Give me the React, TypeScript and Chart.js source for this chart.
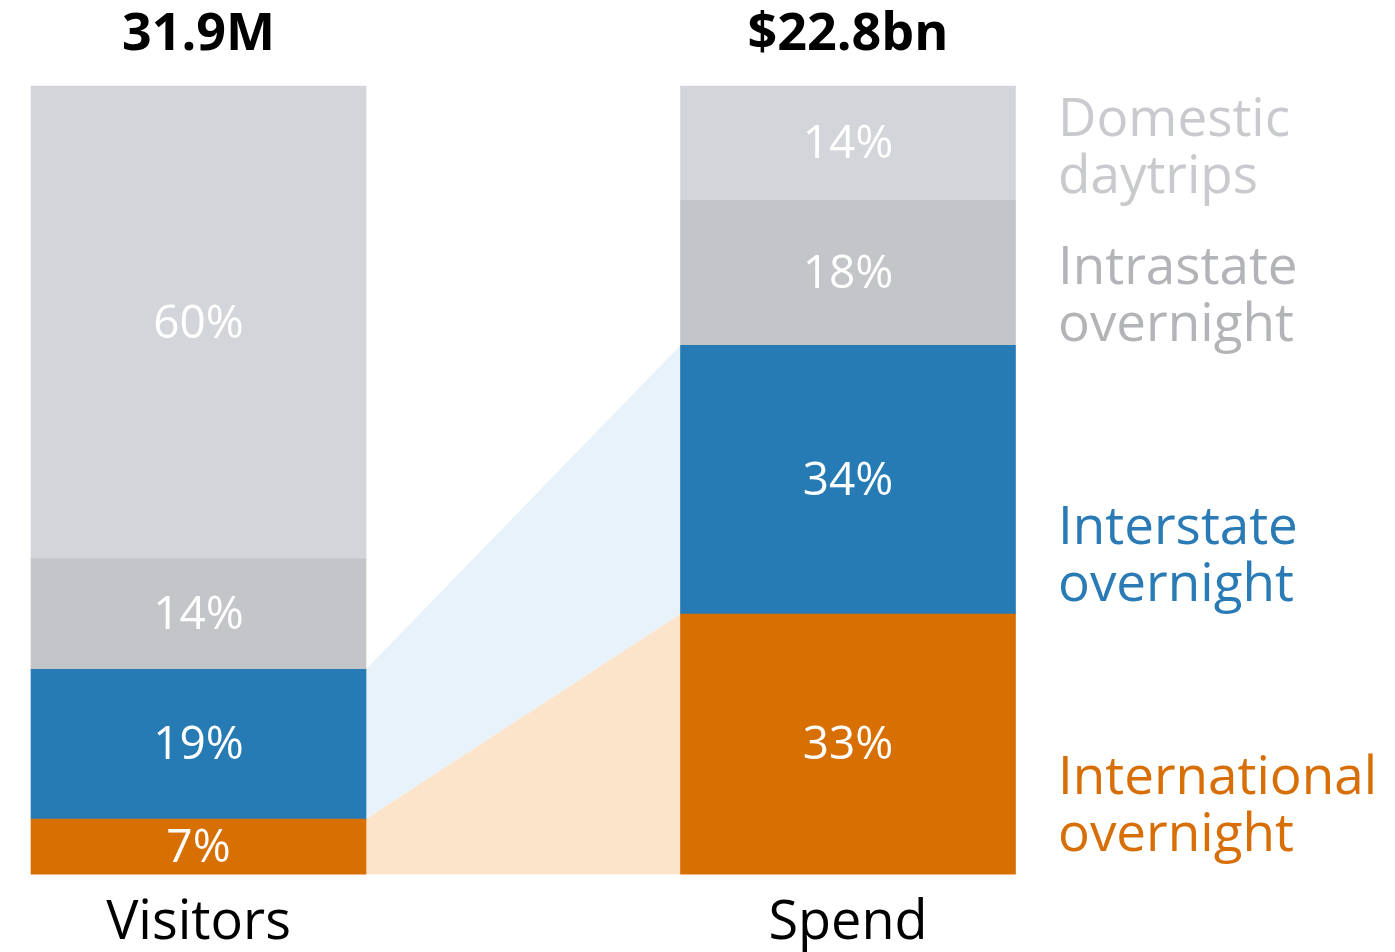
import React, { useEffect, useRef } from "react";
import { Chart, registerables } from "chart.js";

Chart.register(...registerables);

const categories = ["Visitors", "Spend"];
const totals = ["31.9M", "$22.8bn"];
const seriesNames = [
  ["International", "overnight"],
  ["Interstate", "overnight"],
  ["Intrastate", "overnight"],
  ["Domestic", "daytrips"],
];
const international = [7, 33];
const interstate = [19, 34.1];
const intrastate = [14, 18.4];
const domestic = [60, 14.5];
const internationalLabels = ["7%", "33%"];
const interstateLabels = ["19%", "34%"];
const intrastateLabels = ["14%", "18%"];
const domesticLabels = ["60%", "14%"];

const FONT = "'Open Sans', 'DejaVu Sans', sans-serif";
const barColors = ["#d76f02", "#277bb4", "#c4c5c8", "#d4d5da"];
const textColors = ["#d76f06", "#2a7ab5", "#b3b4b7", "#c9cacd"];
const linkColors = ["#fce4ca", "#e8f2fa"];
const labelSets = [internationalLabels, interstateLabels, intrastateLabels, domesticLabels];

const W = 1395;
const H = 980;

const decorPlugin = {
  id: "decor",
  beforeDatasetsDraw(chart: any) {
    const ctx = chart.ctx;
    ctx.save();
    [1, 0].forEach((di) => {
      const meta = chart.getDatasetMeta(di);
      const a = meta.data[0] as any;
      const b = meta.data[1] as any;
      const ax = a.x + a.width / 2;
      const bx = b.x - b.width / 2;
      ctx.beginPath();
      ctx.moveTo(ax, a.y);
      ctx.lineTo(bx, b.y);
      ctx.lineTo(bx, b.base);
      ctx.lineTo(ax, a.base);
      ctx.closePath();
      ctx.fillStyle = linkColors[di];
      ctx.fill();
    });
    ctx.restore();
  },
  afterDatasetsDraw(chart: any) {
    const ctx = chart.ctx;
    ctx.save();
    ctx.textAlign = "center";
    ctx.textBaseline = "middle";
    ctx.fillStyle = "#ffffff";
    ctx.font = `400 46px ${FONT}`;
    chart.data.datasets.forEach((_: any, di: number) => {
      const meta = chart.getDatasetMeta(di);
      meta.data.forEach((bar: any, i: number) => {
        ctx.fillText(labelSets[di][i], bar.x, (bar.y + bar.base) / 2 + 2);
      });
    });
    ctx.fillStyle = "#000000";
    ctx.font = `700 52px ${FONT}`;
    const xs = chart.scales.x;
    totals.forEach((t, i) => {
      ctx.fillText(t, xs.getPixelForValue(i), 35);
    });
    ctx.textAlign = "left";
    ctx.font = `400 53px ${FONT}`;
    const legendY = [
      [779, 836],
      [529, 586],
      [269, 326],
      [121, 178],
    ];
    seriesNames.forEach((lines, si) => {
      ctx.fillStyle = textColors[si];
      lines.forEach((ln, li) => ctx.fillText(ln, 1058, legendY[si][li]));
    });
    ctx.restore();
  },
};

export default function App() {
  const ref = useRef<HTMLCanvasElement | null>(null);
  useEffect(() => {
    if (!ref.current) return;
    const mk = (label: string, data: number[], i: number) => ({
      label,
      data,
      backgroundColor: barColors[i],
      borderWidth: 0,
      barThickness: 335,
      clip: false as any,
    });
    const chart = new Chart(ref.current, {
      type: "bar",
      data: {
        labels: categories,
        datasets: [
          mk(seriesNames[0].join(" "), international, 0),
          mk(seriesNames[1].join(" "), interstate, 1),
          mk(seriesNames[2].join(" "), intrastate, 2),
          mk(seriesNames[3].join(" "), domestic, 3),
        ],
      },
      options: {
        responsive: false,
        animation: false,
        layout: { padding: { left: 198.5, right: W - 848, top: 86, bottom: 7 } },
        plugins: { legend: { display: false }, tooltip: { enabled: false } },
        scales: {
          x: {
            stacked: true,
            offset: false,
            grid: { display: false, drawTicks: false },
            border: { display: false },
            ticks: {
              color: "#000000",
              padding: 17,
              maxRotation: 0,
              autoSkip: false,
              font: { family: FONT, size: 54, lineHeight: 1.2 },
            },
          },
          y: {
            stacked: true,
            display: false,
            min: 0,
            max: 100,
          },
        },
      },
      plugins: [decorPlugin],
    });
    return () => chart.destroy();
  }, []);
  return (
    <div style={{ position: "fixed", left: 0, top: 0, width: W, height: 952, overflow: "hidden", background: "#fff" }}>
      <canvas ref={ref} width={W} height={H} style={{ display: "block" }} />
    </div>
  );
}
